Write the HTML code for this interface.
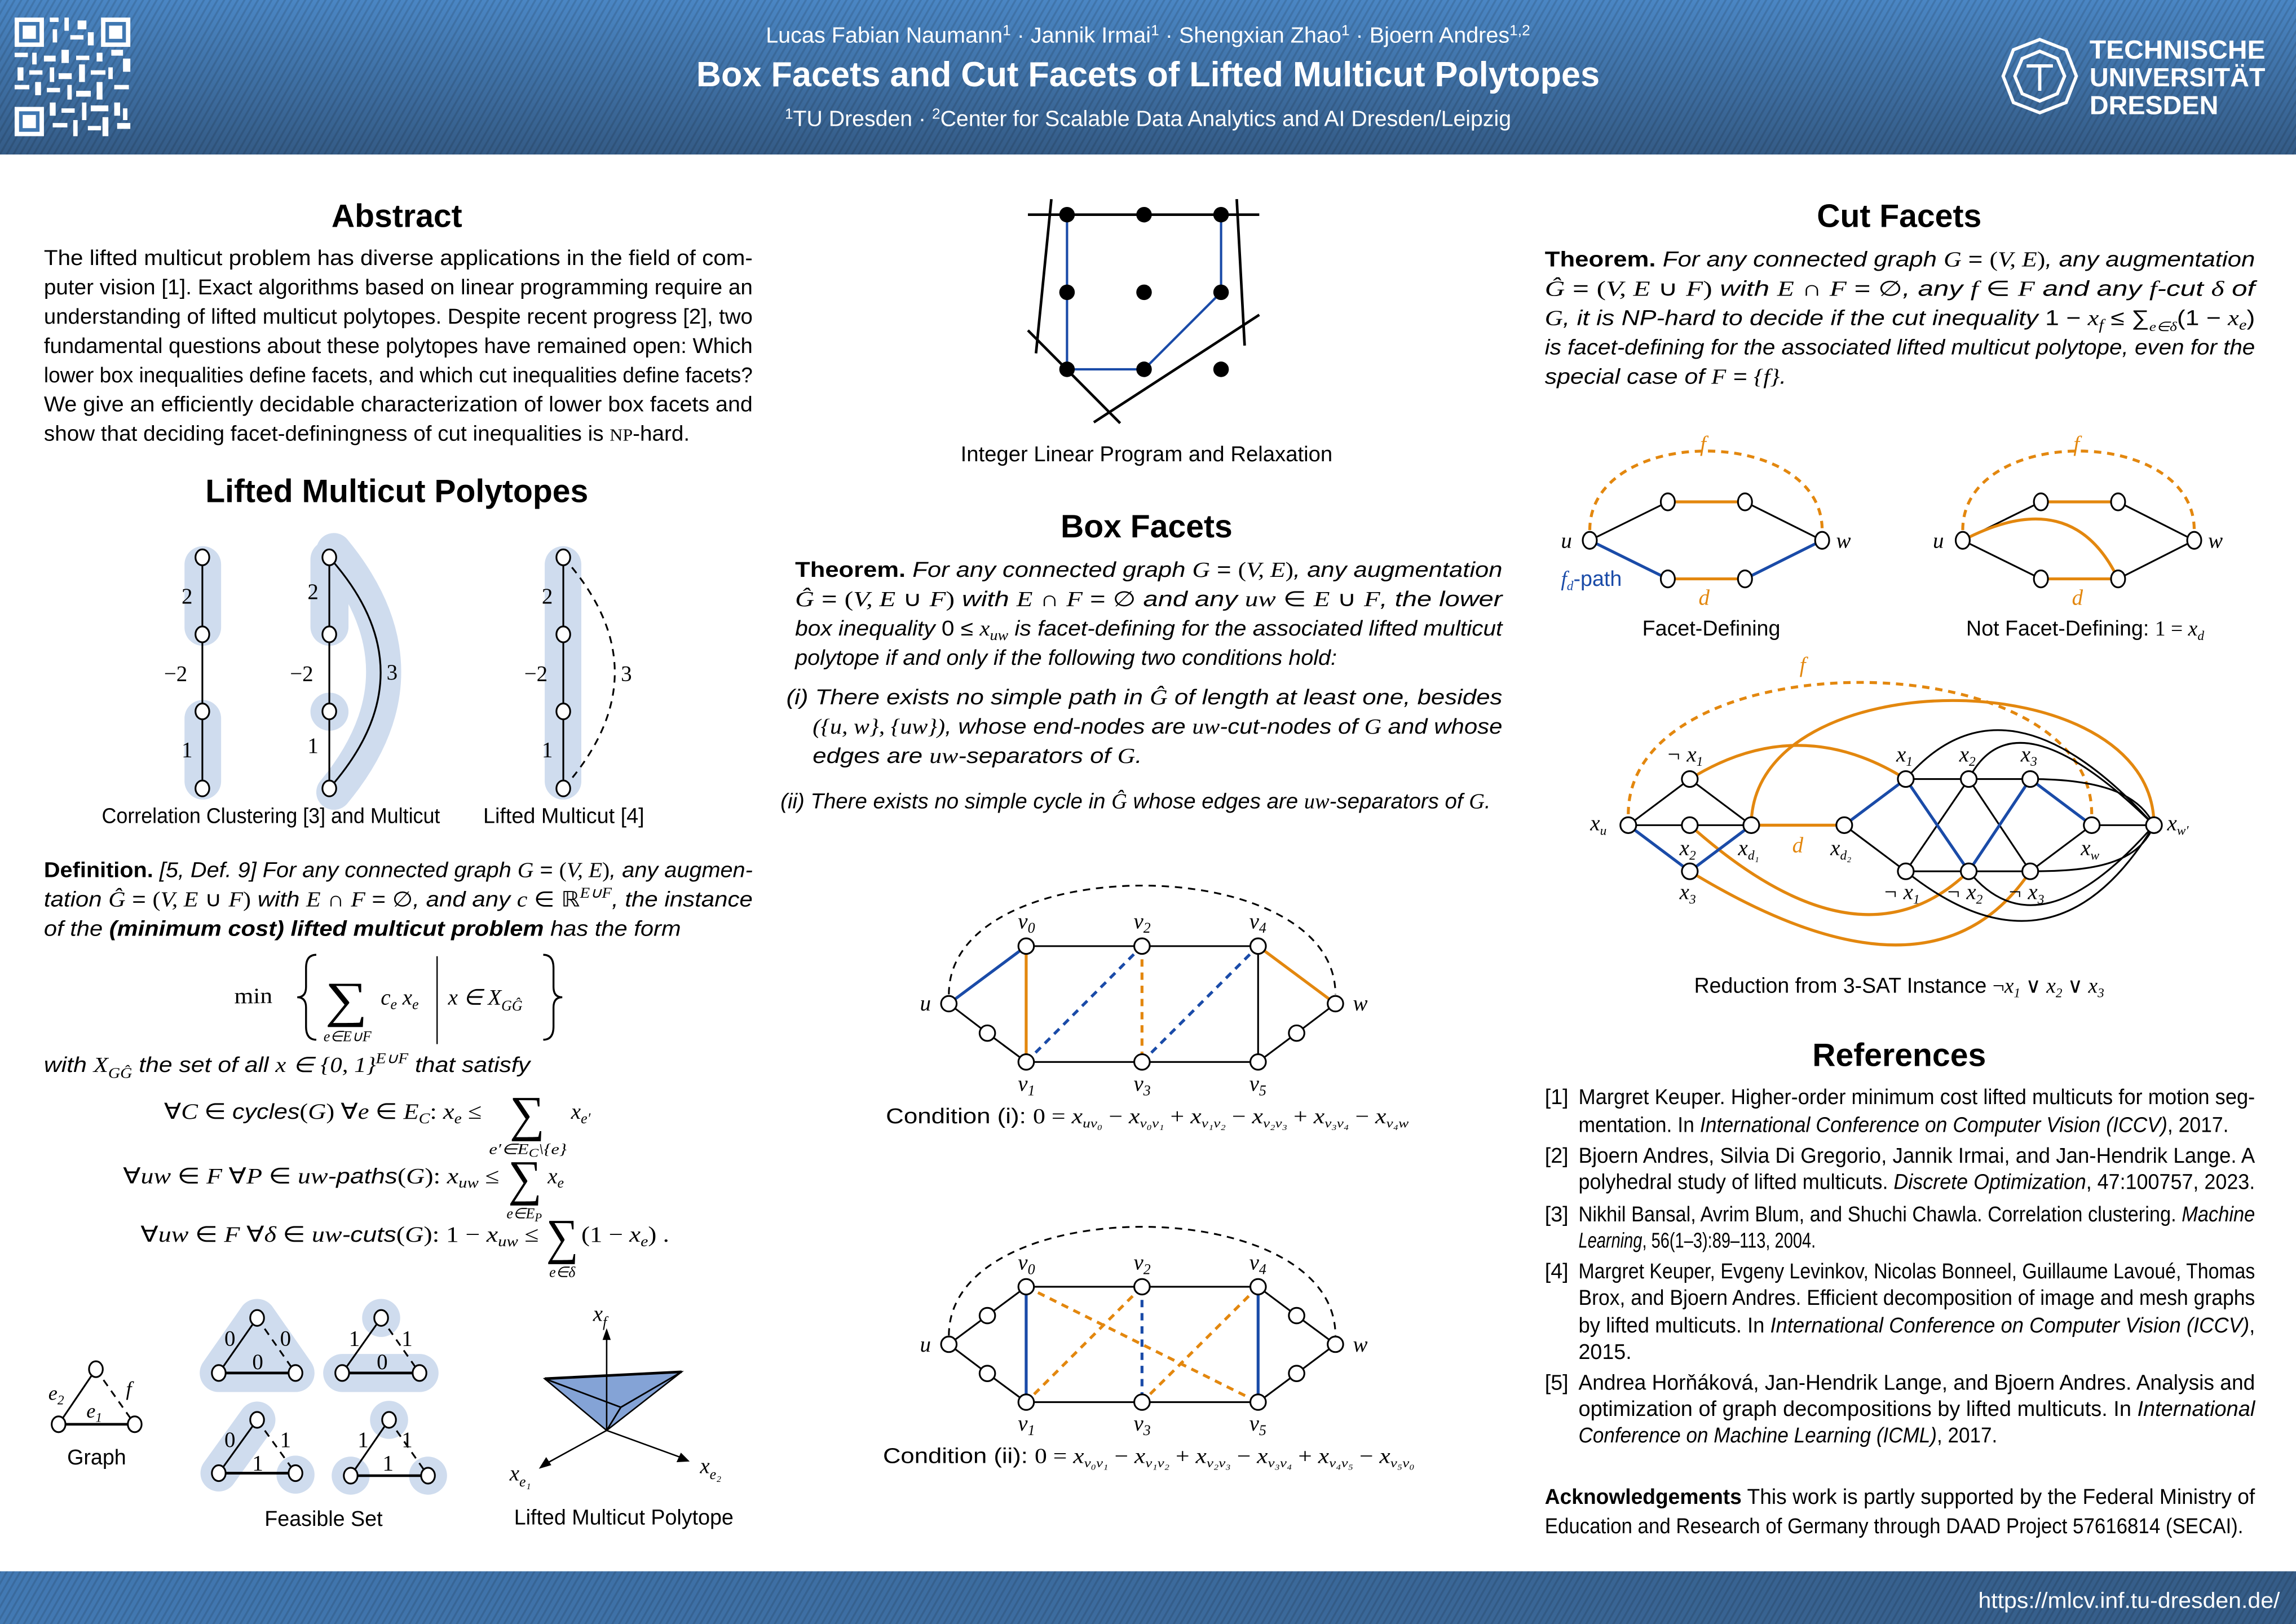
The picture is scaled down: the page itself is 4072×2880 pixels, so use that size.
<!DOCTYPE html>
<html><head><meta charset="utf-8"><style>
html,body{margin:0;padding:0;background:#fff;}
svg{display:block;}
.t{font-family:"Liberation Sans",sans-serif;font-size:14.5px;fill:#000;}
.h{font-family:"Liberation Sans",sans-serif;font-size:22px;font-weight:bold;fill:#000;}
.m{font-family:"Liberation Serif",serif;font-style:italic;}
.r{font-family:"Liberation Serif",serif;}
.i{font-style:italic;}
.b{font-weight:bold;}
.nd{fill:#fff;stroke:#000;stroke-width:1.2;}
.bk{stroke:#000;stroke-width:1.2;fill:none;}
.bl{stroke:#1a4ba8;stroke-width:2;fill:none;}
.or{stroke:#e3870e;stroke-width:2;fill:none;}
.ds{stroke-dasharray:5,4;}
.hl{fill:#cfdcee;}
</style></head><body>
<svg width="4072" height="2880" viewBox="0 0 1568 1109" xmlns="http://www.w3.org/2000/svg">
<defs>
<linearGradient id="hg" x1="0" y1="0" x2="0" y2="1"><stop offset="0" stop-color="#4a86c4"/><stop offset="1" stop-color="#345b86"/></linearGradient>
<linearGradient id="fg" x1="0" y1="0" x2="1" y2="0"><stop offset="0" stop-color="#4279b3"/><stop offset="1" stop-color="#355c87"/></linearGradient>
<pattern id="st" width="4" height="4" patternUnits="userSpaceOnUse" patternTransform="rotate(30)"><rect width="1.3" height="4" fill="rgba(0,0,0,0.12)"/></pattern>
</defs>
<!-- header -->
<rect x="0" y="0" width="1568" height="105.5" fill="url(#hg)"/>
<rect x="0" y="0" width="1568" height="105.5" fill="url(#st)"/>
<rect x="0" y="1073" width="1568" height="36" fill="url(#fg)"/>
<rect x="0" y="1073" width="1568" height="36" fill="url(#st)"/>
<!-- QR -->
<g fill="#fff">
<rect x="10" y="12" width="20" height="20"/><rect x="13" y="15" width="14" height="14" fill="#3f77b1"/><rect x="15.5" y="17.5" width="9" height="9"/>
<rect x="69" y="12" width="20" height="20"/><rect x="72" y="15" width="14" height="14" fill="#3f77b1"/><rect x="74.5" y="17.5" width="9" height="9"/>
<rect x="10" y="73" width="20" height="20"/><rect x="13" y="76" width="14" height="14" fill="#3f77b1"/><rect x="15.5" y="78.5" width="9" height="9"/>
<rect x="34" y="12" width="6" height="3"/><rect x="44" y="12" width="3" height="9"/><rect x="53" y="14" width="6" height="6"/><rect x="36" y="20" width="3" height="9"/><rect x="48" y="24" width="9" height="3"/><rect x="60" y="22" width="4" height="9"/>
<rect x="10" y="36" width="9" height="3"/><rect x="22" y="36" width="3" height="8"/><rect x="30" y="38" width="8" height="4"/><rect x="42" y="34" width="5" height="9"/><rect x="52" y="38" width="9" height="3"/><rect x="66" y="36" width="4" height="6"/><rect x="76" y="34" width="8" height="4"/><rect x="84" y="40" width="5" height="9"/>
<rect x="12" y="46" width="4" height="9"/><rect x="20" y="48" width="9" height="3"/><rect x="34" y="46" width="3" height="10"/><rect x="40" y="50" width="9" height="4"/><rect x="54" y="44" width="4" height="12"/><rect x="62" y="48" width="10" height="3"/><rect x="74" y="46" width="3" height="8"/>
<rect x="10" y="58" width="10" height="3"/><rect x="24" y="56" width="4" height="9"/><rect x="32" y="60" width="9" height="3"/><rect x="46" y="58" width="3" height="10"/><rect x="52" y="62" width="10" height="4"/><rect x="66" y="56" width="4" height="12"/><rect x="78" y="58" width="10" height="3"/>
<rect x="34" y="70" width="4" height="9"/><rect x="42" y="74" width="9" height="3"/><rect x="56" y="70" width="3" height="12"/><rect x="62" y="72" width="12" height="4"/><rect x="78" y="70" width="4" height="9"/><rect x="36" y="84" width="10" height="3"/><rect x="50" y="82" width="3" height="11"/><rect x="60" y="86" width="9" height="3"/><rect x="70" y="80" width="4" height="13"/><rect x="80" y="84" width="9" height="4"/><rect x="84" y="74" width="3" height="8"/>
</g>
<!-- header text -->
<text x="784" y="29" text-anchor="middle" class="t" style="fill:#fff;font-size:15px" textLength="522" lengthAdjust="spacingAndGlyphs">Lucas Fabian Naumann<tspan font-size="10" dy="-5">1</tspan><tspan dy="5"> · Jannik Irmai</tspan><tspan font-size="10" dy="-5">1</tspan><tspan dy="5"> · Shengxian Zhao</tspan><tspan font-size="10" dy="-5">1</tspan><tspan dy="5"> · Bjoern Andres</tspan><tspan font-size="10" dy="-5">1,2</tspan></text>
<text x="784" y="59" text-anchor="middle" class="t b" style="fill:#fff;font-size:24px" textLength="617" lengthAdjust="spacingAndGlyphs">Box Facets and Cut Facets of Lifted Multicut Polytopes</text>
<text x="784" y="86" text-anchor="middle" class="t" style="fill:#fff;font-size:15px" textLength="496" lengthAdjust="spacingAndGlyphs"><tspan font-size="10" dy="-5">1</tspan><tspan dy="5">TU Dresden · </tspan><tspan font-size="10" dy="-5">2</tspan><tspan dy="5">Center for Scalable Data Analytics and AI Dresden/Leipzig</tspan></text>
<!-- TU logo -->
<g stroke="#fff" stroke-width="2.2" fill="none">
<path d="M1393,27 L1411,34 L1418,52 L1411,70 L1393,77 L1375,70 L1368,52 L1375,34 Z"/>
<path d="M1393,35 L1405,40 L1410,52 L1405,64 L1393,69 L1381,64 L1376,52 L1381,40 Z"/>
<path d="M1384,45 L1402,45 M1393,45 L1393,62"/>
</g>
<g class="t b" style="fill:#fff;font-size:18px">
<text x="1427" y="40" textLength="120" lengthAdjust="spacingAndGlyphs">TECHNISCHE</text>
<text x="1427" y="59" textLength="120" lengthAdjust="spacingAndGlyphs">UNIVERSITÄT</text>
<text x="1427" y="78" textLength="88" lengthAdjust="spacingAndGlyphs">DRESDEN</text>
</g>
<text x="1557" y="1098" text-anchor="end" class="t" style="fill:#fff;font-size:15px" textLength="206" lengthAdjust="spacingAndGlyphs">https://mlcv.inf.tu-dresden.de/</text>

<!-- ========== COLUMN 1 ========== -->
<text x="271" y="155" text-anchor="middle" class="h">Abstract</text>
<g class="t">
<text x="30" y="181" textLength="484" lengthAdjust="spacingAndGlyphs">The lifted multicut problem has diverse applications in the field of com-</text>
<text x="30" y="201" textLength="484" lengthAdjust="spacingAndGlyphs">puter vision [1]. Exact algorithms based on linear programming require an</text>
<text x="30" y="221" textLength="484" lengthAdjust="spacingAndGlyphs">understanding of lifted multicut polytopes. Despite recent progress [2], two</text>
<text x="30" y="241" textLength="484" lengthAdjust="spacingAndGlyphs">fundamental questions about these polytopes have remained open: Which</text>
<text x="30" y="261" textLength="484" lengthAdjust="spacingAndGlyphs">lower box inequalities define facets, and which cut inequalities define facets?</text>
<text x="30" y="281" textLength="484" lengthAdjust="spacingAndGlyphs">We give an efficiently decidable characterization of lower box facets and</text>
<text x="30" y="301" textLength="441" lengthAdjust="spacingAndGlyphs">show that deciding facet-definingness of cut inequalities is <tspan class="r" font-size="12">NP</tspan>-hard.</text>
</g>
<text x="271" y="343" text-anchor="middle" class="h">Lifted Multicut Polytopes</text>
<!-- CC graphs -->
<rect x="126" y="373" width="25" height="68" rx="12.5" class="hl"/>
<rect x="126" y="478" width="25" height="68" rx="12.5" class="hl"/>
<rect x="212" y="369" width="26" height="72" rx="13" class="hl"/>
<circle cx="225" cy="486" r="13" class="hl"/>
<path d="M228,376 Q296,459 228,541" stroke="#cfdcee" stroke-width="24" stroke-linecap="round" fill="none"/>
<rect x="372" y="373" width="25" height="173" rx="12.5" class="hl"/>
<line x1="138.2" y1="380.6" x2="138.2" y2="538.4" class="bk"/>
<line x1="224.9" y1="380.6" x2="224.9" y2="538.4" class="bk"/>
<path d="M224.9,380.6 Q295,459 224.9,538.4" class="bk"/>
<line x1="384.7" y1="380.6" x2="384.7" y2="538.4" class="bk"/>
<path d="M384.7,380.6 Q455,459 384.7,538.4" class="bk ds"/>
<g class="nd">
<ellipse cx="138.2" cy="380.6" rx="4.7" ry="5.4"/><ellipse cx="138.2" cy="433.2" rx="4.7" ry="5.4"/><ellipse cx="138.2" cy="485.8" rx="4.7" ry="5.4"/><ellipse cx="138.2" cy="538.4" rx="4.7" ry="5.4"/>
<ellipse cx="224.9" cy="380.6" rx="4.7" ry="5.4"/><ellipse cx="224.9" cy="433.2" rx="4.7" ry="5.4"/><ellipse cx="224.9" cy="485.8" rx="4.7" ry="5.4"/><ellipse cx="224.9" cy="538.4" rx="4.7" ry="5.4"/>
<ellipse cx="384.7" cy="380.6" rx="4.7" ry="5.4"/><ellipse cx="384.7" cy="433.2" rx="4.7" ry="5.4"/><ellipse cx="384.7" cy="485.8" rx="4.7" ry="5.4"/><ellipse cx="384.7" cy="538.4" rx="4.7" ry="5.4"/>
</g>
<g class="r" font-size="15">
<text x="124" y="412">2</text><text x="112" y="465">−2</text><text x="124" y="517">1</text>
<text x="210" y="409">2</text><text x="198" y="465">−2</text><text x="210" y="514">1</text><text x="264" y="464">3</text>
<text x="370" y="412">2</text><text x="358" y="465">−2</text><text x="370" y="517">1</text><text x="424" y="465">3</text>
</g>
<text x="185" y="562" text-anchor="middle" class="t" font-size="14" textLength="231" lengthAdjust="spacingAndGlyphs">Correlation Clustering [3] and Multicut</text>
<text x="385" y="562" text-anchor="middle" class="t" font-size="14" textLength="110" lengthAdjust="spacingAndGlyphs">Lifted Multicut [4]</text>
<!-- definition -->
<g class="t">
<text x="30" y="599" textLength="484" lengthAdjust="spacingAndGlyphs"><tspan class="b">Definition.</tspan><tspan class="i"> [5, Def. 9]  For any connected graph </tspan><tspan class="m">G</tspan> = <tspan class="r">(</tspan><tspan class="m">V, E</tspan><tspan class="r">)</tspan><tspan class="i">, any augmen-</tspan></text>
<text x="30" y="619" textLength="484" lengthAdjust="spacingAndGlyphs"><tspan class="i">tation </tspan><tspan class="m">Ĝ</tspan> = <tspan class="r">(</tspan><tspan class="m">V, E</tspan> ∪ <tspan class="m">F</tspan><tspan class="r">)</tspan><tspan class="i"> with </tspan><tspan class="m">E</tspan> ∩ <tspan class="m">F</tspan> = ∅<tspan class="i">, and any </tspan><tspan class="m">c</tspan> ∈ ℝ<tspan class="m" font-size="10" dy="-6">E∪F</tspan><tspan class="i" dy="6">, the instance</tspan></text>
<text x="30" y="639" textLength="435" lengthAdjust="spacingAndGlyphs"><tspan class="i">of the </tspan><tspan class="i b">(minimum cost) lifted multicut problem</tspan><tspan class="i"> has the form</tspan></text>
</g>
<g class="r" font-size="15">
<text x="160" y="685" textLength="26" lengthAdjust="spacingAndGlyphs">min</text>
<path d="M216,652 Q209,652 209,661 L209,674 Q209,681 203,681 Q209,681 209,688 L209,701 Q209,710 216,710" stroke="#000" stroke-width="1.3" fill="none"/>
<text x="222" y="694" font-size="34" textLength="29" lengthAdjust="spacingAndGlyphs">∑</text>
<text x="221" y="711" class="m" font-size="10">e∈E∪F</text>
<text x="260" y="686" class="m">c<tspan font-size="10" dy="3">e</tspan><tspan dy="-3"> x</tspan><tspan font-size="10" dy="3">e</tspan></text>
<line x1="298.5" y1="653" x2="298.5" y2="713" stroke="#000" stroke-width="0.9"/>
<text x="306" y="686" class="m">x <tspan class="r">∈</tspan> X<tspan font-size="10" dy="4">GĜ</tspan></text>
<path d="M371,652 Q378,652 378,661 L378,674 Q378,681 384,681 Q378,681 378,688 L378,701 Q378,710 371,710" stroke="#000" stroke-width="1.3" fill="none"/>
</g>
<text x="30" y="732" class="t i" textLength="332" lengthAdjust="spacingAndGlyphs">with <tspan class="m">X</tspan><tspan class="m" font-size="10" dy="4">GĜ</tspan><tspan dy="-4"> the set of all </tspan><tspan class="m">x</tspan> ∈ <tspan class="r">{0, 1}</tspan><tspan class="m" font-size="10" dy="-6">E∪F</tspan><tspan dy="6"> that satisfy</tspan></text>
<g class="r" font-size="15">
<text x="112" y="764" textLength="217" lengthAdjust="spacingAndGlyphs">∀<tspan class="m">C</tspan> ∈ <tspan class="t i" font-size="14.5">cycles</tspan>(<tspan class="m">G</tspan>) ∀<tspan class="m">e</tspan> ∈ <tspan class="m">E<tspan font-size="10" dy="3">C</tspan></tspan><tspan dy="-3">:  </tspan><tspan class="m">x<tspan font-size="10" dy="3">e</tspan></tspan><tspan dy="-3"> ≤</tspan></text>
<text x="348" y="772" font-size="34" textLength="24" lengthAdjust="spacingAndGlyphs">∑</text>
<text x="334" y="788" class="m" font-size="10" textLength="53" lengthAdjust="spacingAndGlyphs">e′∈E<tspan font-size="8" dy="2">C</tspan><tspan class="r" dy="-2">\{</tspan>e<tspan class="r">}</tspan></text>
<text x="390" y="764" class="m">x<tspan font-size="10" dy="3">e′</tspan></text>

<text x="84" y="808" textLength="257" lengthAdjust="spacingAndGlyphs">∀<tspan class="m">uw</tspan> ∈ <tspan class="m">F</tspan> ∀<tspan class="m">P</tspan> ∈ <tspan class="m">uw</tspan><tspan class="t i" font-size="14.5">-paths</tspan>(<tspan class="m">G</tspan>):  <tspan class="m">x<tspan font-size="10" dy="3">uw</tspan></tspan><tspan dy="-3"> ≤</tspan></text>
<text x="347" y="816" font-size="34" textLength="23" lengthAdjust="spacingAndGlyphs">∑</text>
<text x="358" y="832" text-anchor="middle" class="m" font-size="10">e∈E<tspan font-size="8" dy="2">P</tspan></text>
<text x="374" y="808" class="m">x<tspan font-size="10" dy="3">e</tspan></text>

<text x="96" y="848" textLength="272" lengthAdjust="spacingAndGlyphs">∀<tspan class="m">uw</tspan> ∈ <tspan class="m">F</tspan> ∀<tspan class="m">δ</tspan> ∈ <tspan class="m">uw</tspan><tspan class="t i" font-size="14.5">-cuts</tspan>(<tspan class="m">G</tspan>):  1 − <tspan class="m">x<tspan font-size="10" dy="3">uw</tspan></tspan><tspan dy="-3"> ≤</tspan></text>
<text x="373" y="856" font-size="34" textLength="22" lengthAdjust="spacingAndGlyphs">∑</text>
<text x="384" y="872" text-anchor="middle" class="m" font-size="10">e∈δ</text>
<text x="397" y="848" textLength="60" lengthAdjust="spacingAndGlyphs">(1 − <tspan class="m">x<tspan font-size="10" dy="3">e</tspan></tspan><tspan dy="-3">) .</tspan></text>
</g>
<!-- bottom figures col1 -->
<line x1="40" y1="972.6" x2="65.5" y2="935" class="bk"/>
<line x1="40" y1="972.6" x2="92" y2="972.6" stroke="#000" stroke-width="1.8"/>
<line x1="65.5" y1="935" x2="92" y2="972.6" class="bk ds"/>
<g class="nd"><ellipse cx="40" cy="972.6" rx="4.7" ry="5.4"/><ellipse cx="65.5" cy="935" rx="4.7" ry="5.4"/><ellipse cx="92" cy="972.6" rx="4.7" ry="5.4"/></g>
<g class="m" font-size="14"><text x="33" y="956">e<tspan font-size="9" dy="3">2</tspan></text><text x="59" y="968">e<tspan font-size="9" dy="3">1</tspan></text><text x="86" y="953">f</text></g>
<text x="66" y="1000" text-anchor="middle" class="t" font-size="14">Graph</text>
<!-- feasible set -->
<polygon points="175.6,900 149.4,937.6 201.8,937.6" fill="#cfdcee" stroke="#cfdcee" stroke-width="26" stroke-linejoin="round"/>
<circle cx="260.3" cy="900" r="13" class="hl"/>
<line x1="233.7" y1="937.6" x2="286.5" y2="937.6" stroke="#cfdcee" stroke-width="26" stroke-linecap="round"/>
<line x1="175.6" y1="969.6" x2="149.4" y2="1006" stroke="#cfdcee" stroke-width="25" stroke-linecap="round"/>
<circle cx="201.8" cy="1007" r="13" class="hl"/>
<circle cx="265.7" cy="969.6" r="13" class="hl"/><circle cx="239.5" cy="1007.7" r="13" class="hl"/><circle cx="292.3" cy="1007.7" r="13" class="hl"/>
<g>
<line x1="149.4" y1="937.6" x2="175.6" y2="900" class="bk"/><line x1="149.4" y1="937.6" x2="201.8" y2="937.6" stroke="#000" stroke-width="1.8"/><line x1="175.6" y1="900" x2="201.8" y2="937.6" class="bk ds"/>
<line x1="233.7" y1="937.6" x2="260.3" y2="900" class="bk"/><line x1="233.7" y1="937.6" x2="286.5" y2="937.6" stroke="#000" stroke-width="1.8"/><line x1="260.3" y1="900" x2="286.5" y2="937.6" class="bk ds"/>
<line x1="149.4" y1="1006" x2="175.6" y2="969.6" class="bk"/><line x1="149.4" y1="1006" x2="201.8" y2="1006" stroke="#000" stroke-width="1.8"/><line x1="175.6" y1="969.6" x2="201.8" y2="1006" class="bk ds"/>
<line x1="239.5" y1="1007.7" x2="265.7" y2="969.6" class="bk"/><line x1="239.5" y1="1007.7" x2="292.3" y2="1007.7" stroke="#000" stroke-width="1.8"/><line x1="265.7" y1="969.6" x2="292.3" y2="1007.7" class="bk ds"/>
</g>
<g class="nd">
<ellipse cx="175.6" cy="900" rx="4.7" ry="5.4"/><ellipse cx="149.4" cy="937.6" rx="4.7" ry="5.4"/><ellipse cx="201.8" cy="937.6" rx="4.7" ry="5.4"/>
<ellipse cx="260.3" cy="900" rx="4.7" ry="5.4"/><ellipse cx="233.7" cy="937.6" rx="4.7" ry="5.4"/><ellipse cx="286.5" cy="937.6" rx="4.7" ry="5.4"/>
<ellipse cx="175.6" cy="969.6" rx="4.7" ry="5.4"/><ellipse cx="149.4" cy="1006" rx="4.7" ry="5.4"/><ellipse cx="201.8" cy="1006" rx="4.7" ry="5.4"/>
<ellipse cx="265.7" cy="969.6" rx="4.7" ry="5.4"/><ellipse cx="239.5" cy="1007.7" rx="4.7" ry="5.4"/><ellipse cx="292.3" cy="1007.7" rx="4.7" ry="5.4"/>
</g>
<g class="r" font-size="15" text-anchor="middle">
<text x="157" y="919">0</text><text x="195" y="919">0</text><text x="176" y="935">0</text>
<text x="242" y="919">1</text><text x="278" y="919">1</text><text x="261" y="935">0</text>
<text x="157" y="988">0</text><text x="195" y="988">1</text><text x="176" y="1004">1</text>
<text x="248" y="988">1</text><text x="278" y="988">1</text><text x="265" y="1004">1</text>
</g>
<text x="221" y="1042" text-anchor="middle" class="t" font-size="14">Feasible Set</text>
<!-- polytope -->
<polygon points="372,941.5 465.5,936.8 414.3,976.8" fill="#84a3d6" stroke="#000" stroke-width="1"/>
<line x1="414.3" y1="976.8" x2="414.3" y2="914" stroke="#000" stroke-width="1"/>
<polygon points="414.3,907 411.5,915 417.1,915" fill="#000"/>
<path d="M372,941.5 L424,961 L465.5,936.8 M424,961 L414.3,976.8" stroke="#000" stroke-width="1.1" fill="none"/>
<line x1="372" y1="941.5" x2="465.5" y2="936.8" stroke="#000" stroke-width="1.8"/>
<line x1="414.3" y1="976.8" x2="372" y2="1000" stroke="#000" stroke-width="1"/>
<polygon points="368,1003 373,995 376.5,1000.5" fill="#000"/>
<line x1="414.3" y1="976.8" x2="467" y2="996" stroke="#000" stroke-width="1"/>
<polygon points="471,998 462,998.5 465,992" fill="#000"/>
<g class="m" font-size="15"><text x="405" y="902">x<tspan font-size="10" dy="4">f</tspan></text><text x="348" y="1011">x<tspan font-size="10" dy="4">e₁</tspan></text><text x="478" y="1006">x<tspan font-size="10" dy="4">e₂</tspan></text></g>
<text x="426" y="1041" text-anchor="middle" class="t" font-size="14">Lifted Multicut Polytope</text>

<!-- ========== COLUMN 2 ========== -->
<path d="M728.7,146.6 L833.9,146.6 L833.9,199.6 L781.3,252.2 L728.7,252.2 Z" stroke="#1a4ba8" stroke-width="1.6" fill="none"/>
<g stroke="#000" stroke-width="1.8">
<line x1="702" y1="146.6" x2="860" y2="146.6"/><line x1="718" y1="136" x2="707.5" y2="241.3"/><line x1="844.6" y1="136" x2="850" y2="236"/>
<line x1="702" y1="225.6" x2="765" y2="289"/><line x1="747" y1="288.4" x2="860" y2="215"/>
</g>
<g fill="#000"><circle cx="728.7" cy="146.6" r="5.3"/><circle cx="781.3" cy="146.6" r="5.3"/><circle cx="833.9" cy="146.6" r="5.3"/><circle cx="728.7" cy="199.6" r="5.3"/><circle cx="781.3" cy="199.6" r="5.3"/><circle cx="833.9" cy="199.6" r="5.3"/><circle cx="728.7" cy="252.2" r="5.3"/><circle cx="781.3" cy="252.2" r="5.3"/><circle cx="833.9" cy="252.2" r="5.3"/></g>
<text x="783" y="315" text-anchor="middle" class="t" font-size="14" textLength="254" lengthAdjust="spacingAndGlyphs">Integer Linear Program and Relaxation</text>
<text x="783" y="367" text-anchor="middle" class="h">Box Facets</text>
<g class="t">
<text x="543" y="394" textLength="483" lengthAdjust="spacingAndGlyphs"><tspan class="b">Theorem.</tspan><tspan class="i"> For any connected graph </tspan><tspan class="m">G</tspan> = <tspan class="r">(</tspan><tspan class="m">V, E</tspan><tspan class="r">)</tspan><tspan class="i">, any augmentation</tspan></text>
<text x="543" y="414" textLength="483" lengthAdjust="spacingAndGlyphs"><tspan class="m">Ĝ</tspan> = <tspan class="r">(</tspan><tspan class="m">V, E</tspan> ∪ <tspan class="m">F</tspan><tspan class="r">)</tspan><tspan class="i"> with </tspan><tspan class="m">E</tspan> ∩ <tspan class="m">F</tspan> = ∅<tspan class="i"> and any </tspan><tspan class="m">uw</tspan> ∈ <tspan class="m">E</tspan> ∪ <tspan class="m">F</tspan><tspan class="i">, the lower</tspan></text>
<text x="543" y="434" textLength="483" lengthAdjust="spacingAndGlyphs"><tspan class="i">box inequality </tspan>0 ≤ <tspan class="m">x</tspan><tspan class="m" font-size="10" dy="3">uw</tspan><tspan class="i" dy="-3"> is facet-defining for the associated lifted multicut</tspan></text>
<text x="543" y="454" textLength="370" lengthAdjust="spacingAndGlyphs"><tspan class="i">polytope if and only if the following two conditions hold:</tspan></text>
<text x="537" y="481" textLength="489" lengthAdjust="spacingAndGlyphs" class="i">(i) There exists no simple path in <tspan class="m">Ĝ</tspan> of length at least one, besides</text>
<text x="555" y="501" textLength="471" lengthAdjust="spacingAndGlyphs" class="i"><tspan class="r">({</tspan><tspan class="m">u, w</tspan><tspan class="r">}, {</tspan><tspan class="m">uw</tspan><tspan class="r">})</tspan>, whose end-nodes are <tspan class="m">uw</tspan>-cut-nodes of <tspan class="m">G</tspan> and whose</text>
<text x="555" y="521" textLength="225" lengthAdjust="spacingAndGlyphs" class="i">edges are <tspan class="m">uw</tspan>-separators of <tspan class="m">G</tspan>.</text>
<text x="533" y="552" textLength="485" lengthAdjust="spacingAndGlyphs" class="i">(ii) There exists no simple cycle in <tspan class="m">Ĝ</tspan> whose edges are <tspan class="m">uw</tspan>-separators of <tspan class="m">G</tspan>.</text>
</g>
<!-- condition (i) graph -->
<path d="M648,679 C648,580 912,580 912,679" class="bk ds" stroke-width="1"/>
<line x1="700.8" y1="646.1" x2="859.2" y2="646.1" class="bk"/>
<line x1="700.8" y1="725.2" x2="859.2" y2="725.2" class="bk"/>
<line x1="859.2" y1="646.1" x2="859.2" y2="725.2" class="bk"/>
<path d="M648,685.4 L674.3,705.5 L700.8,725.2 M859.2,725.2 L885.5,705.5 L912,685.4" class="bk"/>
<line x1="648" y1="685.4" x2="700.8" y2="646.1" class="bl"/>
<line x1="700.8" y1="646.1" x2="700.8" y2="725.2" class="or"/>
<line x1="700.8" y1="725.2" x2="779.9" y2="646.1" class="bl ds"/>
<line x1="779.9" y1="646.1" x2="779.9" y2="725.2" class="or ds"/>
<line x1="779.9" y1="725.2" x2="859.2" y2="646.1" class="bl ds"/>
<line x1="859.2" y1="646.1" x2="912" y2="685.4" class="or"/>
<g class="nd"><circle cx="648" cy="685.4" r="5.3"/><circle cx="674.3" cy="705.5" r="5.3"/><circle cx="700.8" cy="646.1" r="5.3"/><circle cx="779.9" cy="646.1" r="5.3"/><circle cx="859.2" cy="646.1" r="5.3"/><circle cx="700.8" cy="725.2" r="5.3"/><circle cx="779.9" cy="725.2" r="5.3"/><circle cx="859.2" cy="725.2" r="5.3"/><circle cx="885.5" cy="705.5" r="5.3"/><circle cx="912" cy="685.4" r="5.3"/></g>
<g class="m" font-size="15" text-anchor="middle">
<text x="632" y="690">u</text><text x="929" y="690">w</text>
<text x="701" y="634">v<tspan font-size="10" dy="3">0</tspan></text><text x="780" y="634">v<tspan font-size="10" dy="3">2</tspan></text><text x="859" y="634">v<tspan font-size="10" dy="3">4</tspan></text>
<text x="701" y="745">v<tspan font-size="10" dy="3">1</tspan></text><text x="780" y="745">v<tspan font-size="10" dy="3">3</tspan></text><text x="859" y="745">v<tspan font-size="10" dy="3">5</tspan></text>
</g>
<text x="605" y="767" class="t" font-size="14" textLength="357" lengthAdjust="spacingAndGlyphs">Condition (i):  <tspan class="r">0 = </tspan><tspan class="m">x</tspan><tspan class="m" font-size="9" dy="3">uv₀</tspan><tspan class="r" dy="-3"> − </tspan><tspan class="m">x</tspan><tspan class="m" font-size="9" dy="3">v₀v₁</tspan><tspan class="r" dy="-3"> + </tspan><tspan class="m">x</tspan><tspan class="m" font-size="9" dy="3">v₁v₂</tspan><tspan class="r" dy="-3"> − </tspan><tspan class="m">x</tspan><tspan class="m" font-size="9" dy="3">v₂v₃</tspan><tspan class="r" dy="-3"> + </tspan><tspan class="m">x</tspan><tspan class="m" font-size="9" dy="3">v₃v₄</tspan><tspan class="r" dy="-3"> − </tspan><tspan class="m">x</tspan><tspan class="m" font-size="9" dy="3">v₄w</tspan></text>
<!-- condition (ii) graph -->
<path d="M648,912 C648,813 912,813 912,912" class="bk ds" stroke-width="1"/>
<line x1="700.8" y1="878.7" x2="859.2" y2="878.7" class="bk"/>
<line x1="700.8" y1="957.5" x2="859.2" y2="957.5" class="bk"/>
<path d="M648,918 L674.3,898.4 L700.8,878.7 M648,918 L674.3,937.9 L700.8,957.5 M912,918 L885.5,898.4 L859.2,878.7 M912,918 L885.5,937.9 L859.2,957.5" class="bk"/>
<line x1="700.8" y1="878.7" x2="700.8" y2="957.5" class="bl"/>
<line x1="779.9" y1="878.7" x2="779.9" y2="957.5" class="bl ds"/>
<line x1="859.2" y1="878.7" x2="859.2" y2="957.5" class="bl"/>
<line x1="700.8" y1="878.7" x2="859.2" y2="957.5" class="or ds"/>
<line x1="779.9" y1="878.7" x2="700.8" y2="957.5" class="or ds"/>
<line x1="859.2" y1="878.7" x2="779.9" y2="957.5" class="or ds"/>
<g class="nd"><circle cx="648" cy="918" r="5.3"/><circle cx="674.3" cy="898.4" r="5.3"/><circle cx="674.3" cy="937.9" r="5.3"/><circle cx="700.8" cy="878.7" r="5.3"/><circle cx="779.9" cy="878.7" r="5.3"/><circle cx="859.2" cy="878.7" r="5.3"/><circle cx="700.8" cy="957.5" r="5.3"/><circle cx="779.9" cy="957.5" r="5.3"/><circle cx="859.2" cy="957.5" r="5.3"/><circle cx="885.5" cy="898.4" r="5.3"/><circle cx="885.5" cy="937.9" r="5.3"/><circle cx="912" cy="918" r="5.3"/></g>
<g class="m" font-size="15" text-anchor="middle">
<text x="632" y="923">u</text><text x="929" y="923">w</text>
<text x="701" y="867">v<tspan font-size="10" dy="3">0</tspan></text><text x="780" y="867">v<tspan font-size="10" dy="3">2</tspan></text><text x="859" y="867">v<tspan font-size="10" dy="3">4</tspan></text>
<text x="701" y="977">v<tspan font-size="10" dy="3">1</tspan></text><text x="780" y="977">v<tspan font-size="10" dy="3">3</tspan></text><text x="859" y="977">v<tspan font-size="10" dy="3">5</tspan></text>
</g>
<text x="603" y="999" class="t" font-size="14" textLength="363" lengthAdjust="spacingAndGlyphs">Condition (ii):  <tspan class="r">0 = </tspan><tspan class="m">x</tspan><tspan class="m" font-size="9" dy="3">v₀v₁</tspan><tspan class="r" dy="-3"> − </tspan><tspan class="m">x</tspan><tspan class="m" font-size="9" dy="3">v₁v₂</tspan><tspan class="r" dy="-3"> + </tspan><tspan class="m">x</tspan><tspan class="m" font-size="9" dy="3">v₂v₃</tspan><tspan class="r" dy="-3"> − </tspan><tspan class="m">x</tspan><tspan class="m" font-size="9" dy="3">v₃v₄</tspan><tspan class="r" dy="-3"> + </tspan><tspan class="m">x</tspan><tspan class="m" font-size="9" dy="3">v₄v₅</tspan><tspan class="r" dy="-3"> − </tspan><tspan class="m">x</tspan><tspan class="m" font-size="9" dy="3">v₅v₀</tspan></text>

<!-- ========== COLUMN 3 ========== -->
<text x="1297" y="155" text-anchor="middle" class="h">Cut Facets</text>
<g class="t">
<text x="1055" y="182" textLength="485" lengthAdjust="spacingAndGlyphs"><tspan class="b">Theorem.</tspan><tspan class="i"> For any connected graph </tspan><tspan class="m">G</tspan> = <tspan class="r">(</tspan><tspan class="m">V, E</tspan><tspan class="r">)</tspan><tspan class="i">, any augmentation</tspan></text>
<text x="1055" y="202" textLength="485" lengthAdjust="spacingAndGlyphs"><tspan class="m">Ĝ</tspan> = <tspan class="r">(</tspan><tspan class="m">V, E</tspan> ∪ <tspan class="m">F</tspan><tspan class="r">)</tspan><tspan class="i"> with </tspan><tspan class="m">E</tspan> ∩ <tspan class="m">F</tspan> = ∅<tspan class="i">, any </tspan><tspan class="m">f</tspan> ∈ <tspan class="m">F</tspan><tspan class="i"> and any </tspan><tspan class="m">f</tspan><tspan class="i">-cut </tspan><tspan class="m">δ</tspan><tspan class="i"> of</tspan></text>
<text x="1055" y="222" textLength="485" lengthAdjust="spacingAndGlyphs"><tspan class="m">G</tspan><tspan class="i">, it is NP-hard to decide if the cut inequality </tspan>1 − <tspan class="m">x</tspan><tspan class="m" font-size="10" dy="3">f</tspan><tspan dy="-3"> ≤ ∑</tspan><tspan class="m" font-size="9" dy="4">e∈δ</tspan><tspan dy="-4">(1 − </tspan><tspan class="m">x</tspan><tspan class="m" font-size="10" dy="3">e</tspan><tspan dy="-3">)</tspan></text>
<text x="1055" y="242" textLength="485" lengthAdjust="spacingAndGlyphs" class="i">is facet-defining for the associated lifted multicut polytope, even for the</text>
<text x="1055" y="262" textLength="165" lengthAdjust="spacingAndGlyphs" class="i">special case of <tspan class="m">F</tspan> = <tspan class="r">{</tspan><tspan class="m">f</tspan><tspan class="r">}</tspan>.</text>
</g>
<!-- facet-defining -->
<path d="M1085.7,362 C1085.7,290 1244.4,290 1244.4,362" class="or ds" stroke-width="2"/>
<path d="M1085.7,369 L1139,342.7 M1191.7,342.7 L1244.4,369" class="bk"/>
<line x1="1139" y1="342.7" x2="1191.7" y2="342.7" class="or" stroke-width="2.6"/>
<line x1="1139" y1="395.3" x2="1191.7" y2="395.3" class="or" stroke-width="2.6"/>
<path d="M1085.7,369 L1139,395.3 M1191.7,395.3 L1244.4,369" class="bl" stroke-width="2.4"/>
<g class="nd"><ellipse cx="1085.7" cy="369" rx="4.8" ry="5.8"/><ellipse cx="1139" cy="342.7" rx="4.8" ry="5.8"/><ellipse cx="1191.7" cy="342.7" rx="4.8" ry="5.8"/><ellipse cx="1139" cy="395.3" rx="4.8" ry="5.8"/><ellipse cx="1191.7" cy="395.3" rx="4.8" ry="5.8"/><ellipse cx="1244.4" cy="369" rx="4.8" ry="5.8"/></g>
<g class="m" font-size="15"><text x="1066" y="374">u</text><text x="1254" y="374">w</text><text x="1161" y="308" style="fill:#e3870e">f</text><text x="1160" y="413" style="fill:#e3870e">d</text></g>
<text x="1066" y="400" class="t" style="fill:#1a4ba8" font-size="14"><tspan class="m">f</tspan><tspan class="m" font-size="9" dy="3">d</tspan><tspan dy="-3">-path</tspan></text>
<text x="1168.7" y="434" text-anchor="middle" class="t" font-size="14">Facet-Defining</text>
<!-- not facet-defining -->
<path d="M1340.4,362 C1340.4,290 1498.5,290 1498.5,362" class="or ds" stroke-width="2"/>
<path d="M1340.4,369 L1393.8,342.7 M1446.5,342.7 L1498.5,369 M1340.4,369 L1393.8,395.3 M1446.5,395.3 L1498.5,369" class="bk"/>
<line x1="1393.8" y1="342.7" x2="1446.5" y2="342.7" class="or" stroke-width="2.6"/>
<line x1="1393.8" y1="395.3" x2="1446.5" y2="395.3" class="or" stroke-width="2.6"/>
<path d="M1340.4,369 Q1415,330 1446.5,395.3" class="or" stroke-width="2.4"/>
<g class="nd"><ellipse cx="1340.4" cy="369" rx="4.8" ry="5.8"/><ellipse cx="1393.8" cy="342.7" rx="4.8" ry="5.8"/><ellipse cx="1446.5" cy="342.7" rx="4.8" ry="5.8"/><ellipse cx="1393.8" cy="395.3" rx="4.8" ry="5.8"/><ellipse cx="1446.5" cy="395.3" rx="4.8" ry="5.8"/><ellipse cx="1498.5" cy="369" rx="4.8" ry="5.8"/></g>
<g class="m" font-size="15"><text x="1320" y="374">u</text><text x="1508" y="374">w</text><text x="1416" y="308" style="fill:#e3870e">f</text><text x="1415" y="413" style="fill:#e3870e">d</text></g>
<text x="1424" y="434" text-anchor="middle" class="t" font-size="14">Not Facet-Defining: <tspan class="r">1 = </tspan><tspan class="m">x</tspan><tspan class="m" font-size="9" dy="3">d</tspan></text>
<!-- reduction -->
<path d="M1112,556 C1112,436 1428.5,436 1428.5,556" class="or ds" stroke-width="2"/>
<path d="M1196,563.5 C1196,450 1471,450 1471,563.5" class="or" stroke-width="2"/>
<path d="M1154,532 Q1228,486 1301.5,532" class="or" stroke-width="2"/>
<path d="M1154,563.5 Q1270,667 1344.5,595" class="or" stroke-width="2"/>
<path d="M1154,595 Q1319,695.6 1386.5,595" class="or" stroke-width="2"/>
<line x1="1196" y1="563.5" x2="1259.5" y2="563.5" class="or" stroke-width="2.6"/>
<g class="bk">
<path d="M1301.5,532 Q1370,452 1471,563.5"/>
<path d="M1344.5,532 Q1376,470 1471,563.5"/>
<path d="M1386.5,532 C1430,532 1460,540 1471,563.5"/>
<path d="M1386.5,595 C1430,595 1460,590 1471,563.5"/>
<path d="M1344.5,595 Q1392,653.6 1471,563.5"/>
<path d="M1301.5,595 Q1403,676 1471,563.5"/>
<path d="M1112,563.5 L1154,532 L1196,563.5 M1112,563.5 L1196,563.5 M1259.5,563.5 L1301.5,595 M1301.5,532 L1386.5,532 M1301.5,595 L1386.5,595 M1301.5,595 L1344.5,532 M1344.5,532 L1386.5,595 M1386.5,595 L1428.5,563.5 L1471,563.5"/>
</g>
<path d="M1112,563.5 L1154,595 L1196,563.5 M1259.5,563.5 L1301.5,532 L1344.5,595 L1386.5,532 L1428.5,563.5" class="bl" stroke-width="2"/>
<g class="nd">
<circle cx="1112" cy="563.5" r="5.4"/><circle cx="1154" cy="532" r="5.4"/><circle cx="1154" cy="563.5" r="5.4"/><circle cx="1154" cy="595" r="5.4"/><circle cx="1196" cy="563.5" r="5.4"/><circle cx="1259.5" cy="563.5" r="5.4"/>
<circle cx="1301.5" cy="532" r="5.4"/><circle cx="1344.5" cy="532" r="5.4"/><circle cx="1386.5" cy="532" r="5.4"/><circle cx="1301.5" cy="595" r="5.4"/><circle cx="1344.5" cy="595" r="5.4"/><circle cx="1386.5" cy="595" r="5.4"/>
<circle cx="1428.5" cy="563.5" r="5.4"/><circle cx="1471" cy="563.5" r="5.4"/>
</g>
<g class="m" font-size="15">
<text x="1086" y="567">x<tspan font-size="9" dy="3">u</tspan></text>
<text x="1138" y="520"><tspan class="r">¬ </tspan>x<tspan font-size="9" dy="3">1</tspan></text>
<text x="1147" y="584">x<tspan font-size="9" dy="3">2</tspan></text>
<text x="1147" y="614">x<tspan font-size="9" dy="3">3</tspan></text>
<text x="1187" y="584">x<tspan font-size="9" dy="3">d₁</tspan></text>
<text x="1224" y="582" style="fill:#e3870e">d</text>
<text x="1250" y="584">x<tspan font-size="9" dy="3">d₂</tspan></text>
<text x="1295" y="520">x<tspan font-size="9" dy="3">1</tspan></text>
<text x="1338" y="520">x<tspan font-size="9" dy="3">2</tspan></text>
<text x="1380" y="520">x<tspan font-size="9" dy="3">3</tspan></text>
<text x="1286" y="614"><tspan class="r">¬ </tspan>x<tspan font-size="9" dy="3">1</tspan></text>
<text x="1329" y="614"><tspan class="r">¬ </tspan>x<tspan font-size="9" dy="3">2</tspan></text>
<text x="1371" y="614"><tspan class="r">¬ </tspan>x<tspan font-size="9" dy="3">3</tspan></text>
<text x="1421" y="584">x<tspan font-size="9" dy="3">w</tspan></text>
<text x="1480" y="567">x<tspan font-size="9" dy="3">w′</tspan></text>
<text x="1229" y="459" style="fill:#e3870e">f</text>
</g>
<text x="1157" y="678" class="t" font-size="14" textLength="280" lengthAdjust="spacingAndGlyphs">Reduction from 3-SAT Instance <tspan class="r">¬</tspan><tspan class="m">x</tspan><tspan class="m" font-size="9" dy="3">1</tspan><tspan class="r" dy="-3"> ∨ </tspan><tspan class="m">x</tspan><tspan class="m" font-size="9" dy="3">2</tspan><tspan class="r" dy="-3"> ∨ </tspan><tspan class="m">x</tspan><tspan class="m" font-size="9" dy="3">3</tspan></text>
<text x="1297" y="728" text-anchor="middle" class="h">References</text>
<g class="t" font-size="14">
<text x="1055" y="754">[1]</text>
<text x="1078" y="754" textLength="462" lengthAdjust="spacingAndGlyphs">Margret Keuper. Higher-order minimum cost lifted multicuts for motion seg-</text>
<text x="1078" y="773" textLength="444" lengthAdjust="spacingAndGlyphs">mentation. In <tspan class="i">International Conference on Computer Vision (ICCV)</tspan>, 2017.</text>
<text x="1055" y="794">[2]</text>
<text x="1078" y="794" textLength="462" lengthAdjust="spacingAndGlyphs">Bjoern Andres, Silvia Di Gregorio, Jannik Irmai, and Jan-Hendrik Lange. A</text>
<text x="1078" y="812" textLength="462" lengthAdjust="spacingAndGlyphs">polyhedral study of lifted multicuts. <tspan class="i">Discrete Optimization</tspan>, 47:100757, 2023.</text>
<text x="1055" y="834">[3]</text>
<text x="1078" y="834" textLength="462" lengthAdjust="spacingAndGlyphs">Nikhil Bansal, Avrim Blum, and Shuchi Chawla. Correlation clustering. <tspan class="i">Machine</tspan></text>
<text x="1078" y="852" textLength="162" lengthAdjust="spacingAndGlyphs"><tspan class="i">Learning</tspan>, 56(1–3):89–113, 2004.</text>
<text x="1055" y="873">[4]</text>
<text x="1078" y="873" textLength="462" lengthAdjust="spacingAndGlyphs">Margret Keuper, Evgeny Levinkov, Nicolas Bonneel, Guillaume Lavoué, Thomas</text>
<text x="1078" y="891" textLength="462" lengthAdjust="spacingAndGlyphs">Brox, and Bjoern Andres. Efficient decomposition of image and mesh graphs</text>
<text x="1078" y="910" textLength="462" lengthAdjust="spacingAndGlyphs">by lifted multicuts. In <tspan class="i">International Conference on Computer Vision (ICCV)</tspan>,</text>
<text x="1078" y="928">2015.</text>
<text x="1055" y="949">[5]</text>
<text x="1078" y="949" textLength="462" lengthAdjust="spacingAndGlyphs">Andrea Horňáková, Jan-Hendrik Lange, and Bjoern Andres. Analysis and</text>
<text x="1078" y="967" textLength="462" lengthAdjust="spacingAndGlyphs">optimization of graph decompositions by lifted multicuts. In <tspan class="i">International</tspan></text>
<text x="1078" y="985" textLength="286" lengthAdjust="spacingAndGlyphs" class="i">Conference on Machine Learning (ICML)<tspan font-style="normal">, 2017.</tspan></text>
</g>
<g class="t" font-size="14">
<text x="1055" y="1027" textLength="485" lengthAdjust="spacingAndGlyphs"><tspan class="b">Acknowledgements</tspan>   This work is partly supported by the Federal Ministry of</text>
<text x="1055" y="1047" textLength="477" lengthAdjust="spacingAndGlyphs">Education and Research of Germany through DAAD Project 57616814 (SECAI).</text>
</g>
</svg>
</body></html>
